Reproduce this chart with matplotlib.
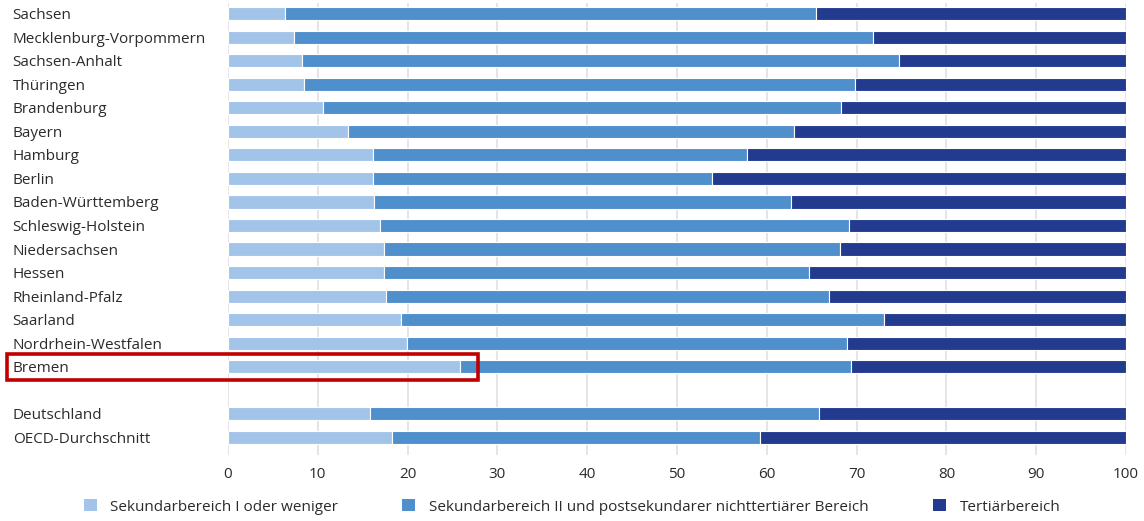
import matplotlib
matplotlib.use("Agg")
import matplotlib.pyplot as plt
import matplotlib.transforms as mtransforms
from matplotlib.patches import Rectangle, Patch

plt.rcParams['font.family'] = ['Open Sans', 'DejaVu Sans']

# Anteile der 25- bis 64-Jährigen nach Bildungsstand (%)
laender = [
    "Sachsen", "Mecklenburg-Vorpommern", "Sachsen-Anhalt", "Thüringen",
    "Brandenburg", "Bayern", "Hamburg", "Berlin", "Baden-Württemberg",
    "Schleswig-Holstein", "Niedersachsen", "Hessen", "Rheinland-Pfalz",
    "Saarland", "Nordrhein-Westfalen", "Bremen",
]
vergleich = ["Deutschland", "OECD-Durchschnitt"]

sek1 = [6.4, 7.4, 8.2, 8.5, 10.6, 13.4, 16.1, 16.2, 16.3, 16.9, 17.4, 17.4,
        17.6, 19.3, 19.9, 25.8, 15.8, 18.3]
sek2 = [59.1, 64.4, 66.5, 61.3, 57.7, 49.6, 41.7, 37.7, 46.4, 52.3, 50.8, 47.3,
        49.3, 53.8, 49.0, 43.6, 50.0, 40.9]
tert = [34.5, 28.2, 25.3, 30.2, 31.7, 37.0, 42.2, 46.1, 37.3, 30.8, 31.8, 35.3,
        33.1, 26.9, 31.1, 30.6, 34.2, 40.8]

legend_labels = ["Sekundarbereich I oder weniger",
                 "Sekundarbereich II und postsekundarer nichttertiärer Bereich",
                 "Tertiärbereich"]
colors = ["#a3c4e9", "#4f8fcc", "#223b8f"]
highlight = "Bremen"
text_col = "#2b2b2b"
fs = 11

labels = laender + vergleich
# one empty slot between the states and the comparison rows
ypos = list(range(len(laender))) + [len(laender) + 1 + i for i in range(len(vergleich))]

fig = plt.figure(figsize=(11.44, 5.21), dpi=100)
ax = fig.add_axes([228 / 1144, 66 / 521, 898 / 1144, 452 / 521])

left = [0.0] * len(labels)
for vals, col in zip([sek1, sek2, tert], colors):
    ax.barh(ypos, vals, left=left, height=0.56, color=col,
            edgecolor="white", linewidth=0.8, zorder=3)
    left = [l + v for l, v in zip(left, vals)]

ax.set_xlim(0, 100)
ax.set_ylim(ypos[-1] + 0.75, -0.45)
ax.set_xticks(range(0, 101, 10))
ax.tick_params(axis="x", length=0, pad=9, labelsize=fs, labelcolor=text_col)
ax.set_yticks(ypos)
ax.set_yticklabels(labels)
ax.tick_params(axis="y", length=0, pad=155, labelsize=fs, labelcolor=text_col)
for t in ax.get_yticklabels() + ax.get_xticklabels():
    t.set_fontweight("medium")
for t in ax.get_yticklabels():
    t.set_horizontalalignment("left")

ax.grid(axis="x", color="#e3e3e3", linewidth=1.3, zorder=0)
for s in ax.spines.values():
    s.set_visible(False)

# red frame around the highlighted state
yb = ypos[labels.index(highlight)]
trans = mtransforms.blended_transform_factory(fig.transFigure, ax.transData)
ax.add_patch(Rectangle((7 / 1144, yb - 0.56), 471 / 1144, 1.12, transform=trans,
                       fill=False, edgecolor="#c00000", linewidth=2.6,
                       clip_on=False, zorder=5))

handles = [Patch(facecolor=c, edgecolor="none") for c in colors]
leg = fig.legend(handles, legend_labels, loc="lower center", bbox_to_anchor=(0.5, -0.014),
                 ncol=3, frameon=False, fontsize=fs, handlelength=0.85, handleheight=0.85,
                 handletextpad=0.9, columnspacing=4.2, labelcolor=text_col,
                 prop={"size": fs, "weight": "medium"})

fig.savefig("out.png", dpi=100)
